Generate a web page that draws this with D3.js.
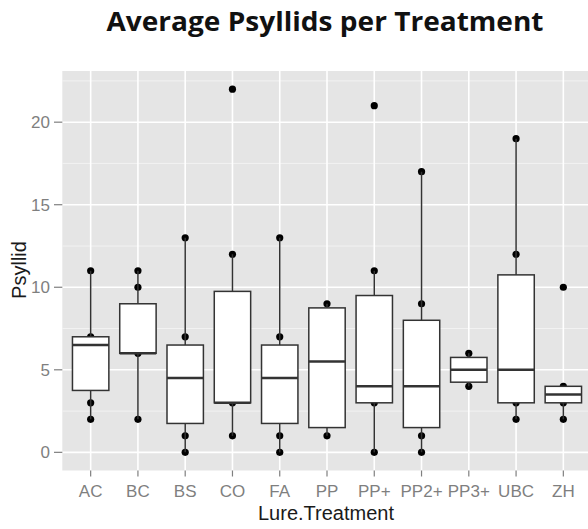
<!DOCTYPE html>
<html>
<head>
<meta charset="utf-8">
<script src="https://cdn.jsdelivr.net/npm/d3@7"></script>
<style>
  body { margin: 0; background: #fff; }
  svg { display: block; }
</style>
</head>
<body>
<svg></svg>
<script>
// Boxplot summary per lure treatment
const treatments = ["AC", "BC", "BS", "CO", "FA", "PP", "PP+", "PP2+", "PP3+", "UBC", "ZH"];
const lowerWhisker = [2, 2, 0, 1, 0, 1, 0, 0, 4, 2, 2];
const q1 = [3.75, 6, 1.75, 3, 1.75, 1.5, 3, 1.5, 4.25, 3, 3];
const medians = [6.5, 6, 4.5, 3, 4.5, 5.5, 4, 4, 5, 5, 3.5];
const q3 = [7, 9, 6.5, 9.75, 6.5, 8.75, 9.5, 8, 5.75, 10.75, 4];
const upperWhisker = [11, 11, 13, 12, 13, 9, 11, 17, 6, 19, 4];
// individual counts drawn as points (overlapping values shown once)
const observed = [
  [11, 7, 3, 2], [11, 10, 6, 2], [13, 7, 1, 0], [22, 12, 3, 1], [13, 7, 1, 0],
  [9, 1], [21, 11, 3, 0], [17, 9, 1, 0], [6, 4], [19, 12, 3, 2], [10, 4, 3, 2]
];
const yTicks = [0, 5, 10, 15, 20];
const yMinor = [2.5, 7.5, 12.5, 17.5, 22.5];

const width = 588, height = 529;
const panel = { left: 62.3, top: 71, right: 591.7, bottom: 470.5 };

const svg = d3.select("svg")
  .attr("width", width)
  .attr("height", height);

const x = d3.scalePoint()
  .domain(treatments)
  .range([panel.left, panel.right])
  .padding(0.6);

const y = d3.scaleLinear()
  .domain([-1.1, 23.1])
  .range([panel.bottom, panel.top]);

const boxW = x.step() * 0.77;

const rows = treatments.map((t, i) => ({
  name: t, lo: lowerWhisker[i], q1: q1[i], med: medians[i], q3: q3[i], hi: upperWhisker[i], pts: observed[i]
}));

// title
svg.append("text")
  .attr("x", 325)
  .attr("y", 31)
  .attr("text-anchor", "middle")
  .attr("font-family", "'Open Sans', sans-serif")
  .attr("font-weight", 700)
  .attr("font-size", 27)
  .attr("textLength", 437)
  .attr("lengthAdjust", "spacingAndGlyphs")
  .attr("fill", "#111")
  .text("Average Psyllids per Treatment");

// panel background + grid
svg.append("rect")
  .attr("x", panel.left)
  .attr("y", panel.top)
  .attr("width", panel.right - panel.left)
  .attr("height", panel.bottom - panel.top)
  .attr("fill", "#e5e5e5");

svg.selectAll(".minor")
  .data(yMinor)
  .enter().append("line")
  .attr("x1", panel.left).attr("x2", panel.right)
  .attr("y1", d => y(d)).attr("y2", d => y(d))
  .attr("stroke", "#f2f2f2")
  .attr("stroke-width", 1);

svg.selectAll(".hgrid")
  .data(yTicks)
  .enter().append("line")
  .attr("x1", panel.left).attr("x2", panel.right)
  .attr("y1", d => y(d)).attr("y2", d => y(d))
  .attr("stroke", "#fff")
  .attr("stroke-width", 1.6);

svg.selectAll(".vgrid")
  .data(treatments)
  .enter().append("line")
  .attr("x1", d => x(d)).attr("x2", d => x(d))
  .attr("y1", panel.top).attr("y2", panel.bottom)
  .attr("stroke", "#fff")
  .attr("stroke-width", 1.6);

// points go underneath the boxes
const g = svg.selectAll(".grp")
  .data(rows)
  .enter().append("g");

g.selectAll("circle")
  .data(d => d.pts.map(v => ({ name: d.name, v: v })))
  .enter().append("circle")
  .attr("cx", d => x(d.name))
  .attr("cy", d => y(d.v))
  .attr("r", 3.6)
  .attr("fill", "#000");

// whiskers
g.append("line")
  .attr("x1", d => x(d.name)).attr("x2", d => x(d.name))
  .attr("y1", d => y(d.hi)).attr("y2", d => y(d.lo))
  .attr("stroke", "#333")
  .attr("stroke-width", 1.5);

// boxes
g.append("rect")
  .attr("x", d => x(d.name) - boxW / 2)
  .attr("y", d => y(d.q3))
  .attr("width", boxW)
  .attr("height", d => y(d.q1) - y(d.q3))
  .attr("fill", "#fff")
  .attr("stroke", "#333")
  .attr("stroke-width", 1.5);

g.append("line")
  .attr("x1", d => x(d.name) - boxW / 2).attr("x2", d => x(d.name) + boxW / 2)
  .attr("y1", d => y(d.med)).attr("y2", d => y(d.med))
  .attr("stroke", "#333")
  .attr("stroke-width", 2.6);

// y axis
const tickCol = "#7f7f7f";
svg.selectAll(".ytick")
  .data(yTicks)
  .enter().append("line")
  .attr("x1", 54).attr("x2", panel.left)
  .attr("y1", d => y(d)).attr("y2", d => y(d))
  .attr("stroke", tickCol)
  .attr("stroke-width", 1.2);

svg.selectAll(".ylab")
  .data(yTicks)
  .enter().append("text")
  .attr("x", 50)
  .attr("y", d => y(d) + 6)
  .attr("text-anchor", "end")
  .attr("font-family", "'Liberation Sans', Arial, sans-serif")
  .attr("font-size", 17)
  .attr("fill", tickCol)
  .text(d => d);

// x axis
svg.selectAll(".xtick")
  .data(treatments)
  .enter().append("line")
  .attr("x1", d => x(d)).attr("x2", d => x(d))
  .attr("y1", panel.bottom).attr("y2", panel.bottom + 6)
  .attr("stroke", tickCol)
  .attr("stroke-width", 1.2);

svg.selectAll(".xlab")
  .data(treatments)
  .enter().append("text")
  .attr("x", d => x(d))
  .attr("y", 497)
  .attr("text-anchor", "middle")
  .attr("font-family", "'Liberation Sans', Arial, sans-serif")
  .attr("font-size", 17)
  .attr("fill", tickCol)
  .text(d => d);

// axis titles
svg.append("text")
  .attr("x", 326)
  .attr("y", 520)
  .attr("text-anchor", "middle")
  .attr("font-family", "'Liberation Sans', Arial, sans-serif")
  .attr("font-size", 20)
  .attr("fill", "#1a1a1a")
  .text("Lure.Treatment");

svg.append("text")
  .attr("transform", "translate(26,270) rotate(-90)")
  .attr("text-anchor", "middle")
  .attr("font-family", "'Liberation Sans', Arial, sans-serif")
  .attr("font-size", 20)
  .attr("fill", "#1a1a1a")
  .text("Psyllid");
</script>
</body>
</html>
